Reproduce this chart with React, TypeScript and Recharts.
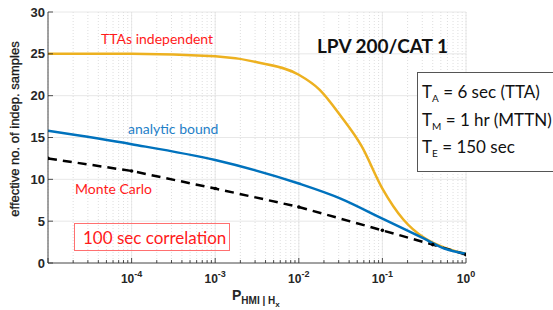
import { CartesianGrid, Line, LineChart, ReferenceLine, XAxis, YAxis } from 'recharts'

// x axis: P_HMI|Hx on a log scale
const majorP = [1e-5, 1e-4, 1e-3, 1e-2, 1e-1, 1]
const majorLabels = ['', '-4', '-3', '-2', '-1', '0']
const minorP = majorP.slice(0, -1).flatMap((d) => [2, 3, 4, 5, 6, 7, 8, 9].map((m) => d * m))
const yTicks = [0, 5, 10, 15, 20, 25, 30]

// TTAs independent (orange)
const ttaP = [1e-5, 1e-4, 1e-3, 3.16e-3, 1e-2, 1.78e-2, 3.16e-2, 5.62e-2, 0.1, 0.178, 0.316, 0.562, 1]
const ttaN = [25.0, 25.0, 24.7, 24.0, 22.5, 20.7, 17.6, 14.0, 8.9, 5.2, 3.0, 1.8, 1.1]

// analytic bound (blue)
const boundP = [1e-5, 1e-4, 1e-3, 1e-2, 3.16e-2, 0.1, 0.316, 0.562, 1]
const boundN = [15.8, 14.2, 12.3, 9.5, 7.7, 5.3, 2.9, 1.7, 1.1]

// Monte Carlo (black dashed)
const mcP = [1e-5, 1e-4, 1e-3, 1e-2, 0.1, 0.4, 1]
const mcN = [12.5, 11.0, 8.9, 6.7, 3.9, 2.2, 1.0]

const toRows = (ps: number[], ns: number[]) => ps.map((p, i) => ({ p, n: ns[i] }))
const ttaData = toRows(ttaP, ttaN)
const boundData = toRows(boundP, boundN)
const mcData = toRows(mcP, mcN)

const AXIS = '#262626'
const AXIS_FONT = '"Liberation Sans", Arial, sans-serif'
const NOTE_FONT = 'Lato, "Open Sans", sans-serif'

function XTick({ x, y, payload }: any) {
  const idx = majorP.indexOf(payload.value)
  const major = idx >= 0
  return (
    <g>
      <line x1={x} x2={x} y1={y} y2={y - (major ? 5 : 3)} stroke={AXIS} strokeWidth={0.8} />
      {major && majorLabels[idx] && (
        <text x={x} y={y + 20} textAnchor="middle" fill={AXIS} fontSize={12} fontWeight="bold" fontFamily={AXIS_FONT}>
          10
          <tspan dy={-6} fontSize={9}>{majorLabels[idx]}</tspan>
        </text>
      )}
    </g>
  )
}

function YTick({ x, y, payload }: any) {
  return (
    <g>
      <line x1={x} x2={x + 5} y1={y} y2={y} stroke={AXIS} strokeWidth={0.8} />
      <text x={x - 3} y={y + 4.5} textAnchor="end" fill={AXIS} fontSize={13} fontWeight="bold" fontFamily={AXIS_FONT}>
        {payload.value}
      </text>
    </g>
  )
}

const note = (left: number, top: number, color: string, size = 14): React.CSSProperties => ({
  position: 'absolute',
  left,
  top,
  color,
  fontSize: size,
  fontFamily: NOTE_FONT,
  lineHeight: 1,
  whiteSpace: 'nowrap',
})

export default function App() {
  const allTicks = [...majorP, ...minorP].sort((a, b) => a - b)
  return (
    <div style={{ position: 'absolute', left: 0, top: 0, width: 553, height: 310, background: '#fff', overflow: 'hidden' }}>
      <LineChart width={553} height={310} margin={{ top: 12, right: 87, bottom: 0, left: 0 }}>
        <CartesianGrid horizontal={false} stroke="#c8c8c8" strokeDasharray="1 2" strokeWidth={0.6} />
        <CartesianGrid vertical={false} stroke="#e2e2e2" strokeWidth={0.8} />
        {majorP.map((p) => (
          <ReferenceLine key={p} x={p} stroke="#e2e2e2" strokeWidth={0.8} />
        ))}
        <XAxis
          dataKey="p"
          type="number"
          scale="log"
          domain={[1e-5, 1]}
          ticks={allTicks}
          allowDataOverflow
          height={47}
          tickSize={0}
          tickMargin={0}
          tick={<XTick />}
          axisLine={{ stroke: AXIS, strokeWidth: 0.8 }}
          tickLine={false}
          interval={0}
        />
        <YAxis
          dataKey="n"
          type="number"
          domain={[0, 30]}
          ticks={yTicks}
          width={48}
          tickSize={0}
          tickMargin={0}
          tick={<YTick />}
          axisLine={{ stroke: AXIS, strokeWidth: 0.8 }}
          tickLine={false}
          interval={0}
        />
        <Line data={ttaData} dataKey="n" type="monotone" stroke="#EDB120" strokeWidth={2.5} dot={false} isAnimationActive={false} />
        <Line
          data={mcData}
          dataKey="n"
          type="linear"
          stroke="#000"
          strokeWidth={2.5}
          strokeDasharray="9 6"
          dot={{ r: 1.8, fill: '#000', stroke: '#000', strokeWidth: 0 }}
          isAnimationActive={false}
        />
        <Line data={boundData} dataKey="n" type="monotone" stroke="#0072BD" strokeWidth={2.5} dot={false} isAnimationActive={false} />
      </LineChart>

      <div
        style={{
          position: 'absolute',
          left: 14,
          top: 129,
          transform: 'translate(-50%, -50%) rotate(-90deg)',
          fontFamily: AXIS_FONT,
          fontSize: 13,
          color: '#1a1a1a',
          whiteSpace: 'nowrap',
          WebkitTextStroke: '0.3px #1a1a1a',
        }}
      >
        effective no. of indep. samples
      </div>
      <div style={{ position: 'absolute', left: 232, top: 287, fontFamily: AXIS_FONT, fontWeight: 'bold', fontSize: 14, color: AXIS, whiteSpace: 'nowrap' }}>
        P
        <span style={{ fontSize: 10, position: 'relative', top: 4 }}>
          HMI | H<span style={{ fontSize: 8, position: 'relative', top: 3 }}>x</span>
        </span>
      </div>

      <div style={note(101, 32, '#ff1a1a')}>TTAs independent</div>
      <div style={note(128, 122, '#1f7fc8')}>analytic bound</div>
      <div style={note(75, 182, '#ff1a1a')}>Monte Carlo</div>
      <div
        style={{
          position: 'absolute',
          left: 74,
          top: 223,
          width: 156,
          height: 28,
          border: '1px solid #ff7070',
          boxSizing: 'border-box',
        }}
      />
      <div style={note(83, 229, '#ff1a1a', 17)}>100 sec correlation</div>

      <div style={{ ...note(317, 36, '#111', 19), fontWeight: 'bold' }}>LPV 200/CAT 1</div>

      <div
        style={{
          position: 'absolute',
          left: 417,
          top: 72,
          width: 160,
          height: 100,
          border: '1px solid #555',
          background: '#fff',
          boxSizing: 'border-box',
        }}
      />
      <div style={note(422, 83, '#111', 17)}>
        T<sub style={{ fontSize: 10 }}>A</sub> = 6 sec (TTA)
      </div>
      <div style={note(422, 111, '#111', 17)}>
        T<sub style={{ fontSize: 10 }}>M</sub> = 1 hr (MTTN)
      </div>
      <div style={note(422, 138, '#111', 17)}>
        T<sub style={{ fontSize: 10 }}>E</sub> = 150 sec
      </div>
    </div>
  )
}
